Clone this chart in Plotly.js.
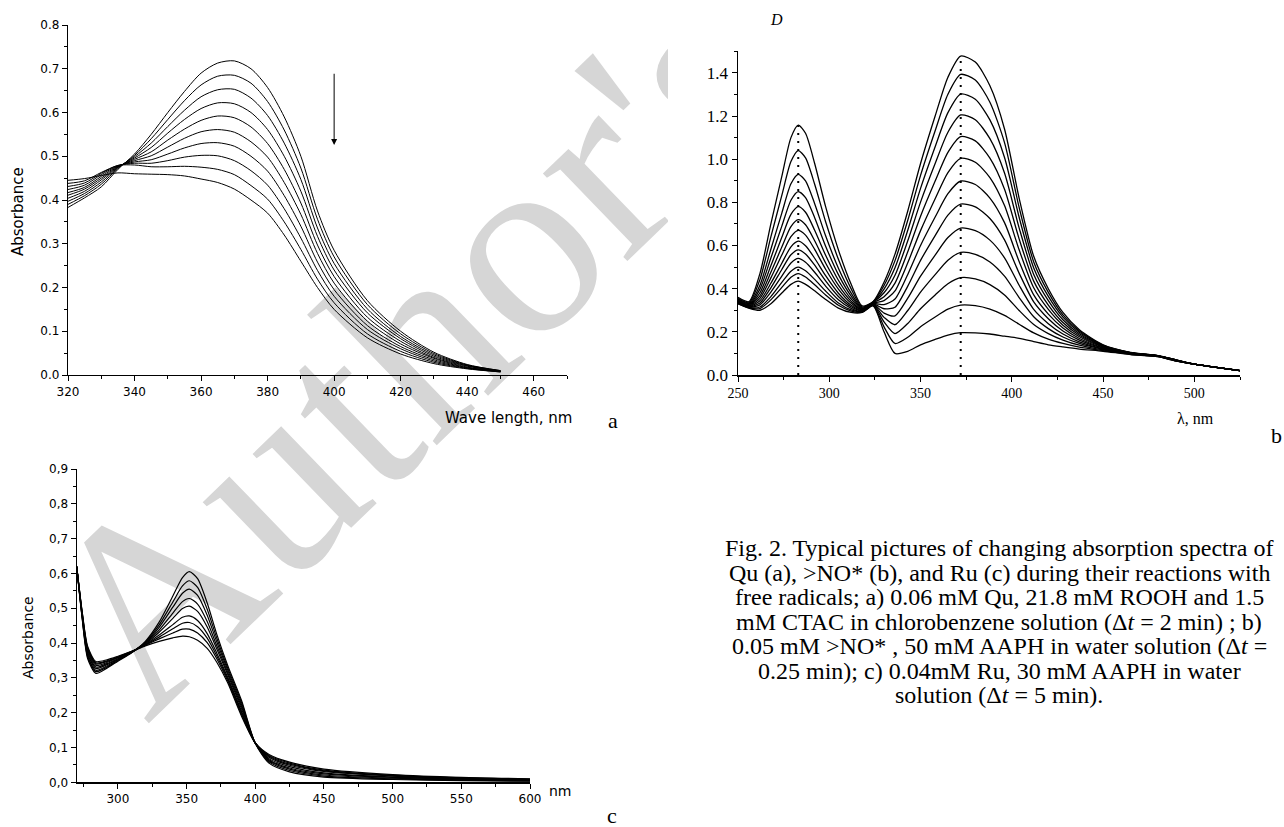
<!DOCTYPE html>
<html><head><meta charset="utf-8">
<script src="https://cdn.plot.ly/plotly-3.0.1.min.js"></script>
<style>
html,body{margin:0;padding:0;background:#fff;}
#wrap{position:relative;width:1284px;height:827px;overflow:hidden;background:#fff;}
#wm{position:absolute;left:0;top:0;}
#chart{position:absolute;left:0;top:0;width:1284px;height:827px;}
</style></head>
<body><div id="wrap">
<svg id="wm" width="1284" height="827"><text x="0" y="0" transform="translate(147,725) rotate(-44)" font-family="Liberation Serif, Times New Roman, serif" font-size="265" fill="#d6d6d6">Author's</text></svg>
<div id="chart"></div></div>
<script>
// ---------- Panel a : Qu ----------
const wlA = [320,325,330,335,340,345,350,355,360,365,370,375,380,385,390,395,400,410,420,430,440,450];
const quA1 = [.383,.405,.430,.470,.505,.550,.600,.648,.690,.713,.718,.700,.657,.590,.500,.375,.285,.170,.100,.052,.024,.010];
const quA2 = [.390,.410,.436,.472,.502,.540,.584,.627,.663,.683,.685,.667,.625,.560,.473,.356,.270,.161,.094,.049,.023,.010];
const quA3 = [.397,.415,.441,.474,.499,.530,.568,.605,.636,.652,.653,.633,.593,.530,.447,.336,.255,.151,.088,.046,.022,.009];
const quA4 = [.404,.420,.446,.475,.496,.520,.553,.584,.609,.622,.620,.600,.561,.500,.420,.317,.240,.142,.083,.043,.021,.009];
const quA5 = [.411,.425,.450,.476,.493,.510,.537,.562,.582,.592,.588,.567,.529,.470,.393,.297,.225,.132,.077,.040,.020,.009];
const quA6 = [.417,.429,.454,.477,.490,.501,.521,.541,.556,.561,.555,.533,.498,.440,.367,.278,.210,.123,.071,.038,.018,.008];
const quA7 = [.424,.434,.458,.478,.487,.492,.505,.519,.529,.531,.523,.500,.466,.410,.340,.258,.195,.113,.065,.035,.017,.008];
const quA8 = [.431,.439,.461,.479,.484,.484,.490,.498,.502,.501,.490,.467,.434,.380,.313,.239,.180,.104,.060,.032,.016,.008];
const quA9 = [.438,.444,.463,.479,.480,.476,.476,.477,.475,.470,.458,.433,.402,.350,.287,.219,.165,.094,.054,.029,.015,.007];
const quA10= [.445,.449,.456,.462,.460,.459,.458,.455,.448,.440,.425,.400,.370,.320,.260,.200,.150,.085,.048,.026,.014,.007];
const arrowWlA = [400];
const arrowFromA = [0.692];
const arrowToA = [0.526];

// ---------- Panel b : >NO* ----------
const wlB = [250,256,262,268,274,279,283,287,292,298,305,312,318,324,330,336,343,350,358,365,372,380,388,396,404,412,420,428,437,450,465,480,490,500,512,525];
const noB1 = [.360,.340,.470,.700,.920,1.100,1.158,1.120,.980,.780,.580,.420,.320,.340,.430,.560,.760,.980,1.200,1.380,1.478,1.450,1.340,1.140,.820,.550,.400,.290,.210,.140,.105,.090,.070,.050,.035,.020];
const noB2 = [.355,.335,.442,.640,.832,.989,1.040,1.006,.884,.710,.536,.399,.315,.339,.415,.530,.717,.925,1.132,1.301,1.393,1.367,1.264,1.077,.777,.524,.383,.279,.204,.138,.104,.090,.070,.050,.035,.020];
const noB3 = [.351,.331,.416,.583,.750,.886,.930,.900,.794,.645,.495,.379,.311,.337,.398,.497,.671,.865,1.058,1.216,1.302,1.278,1.182,1.008,.731,.496,.364,.268,.198,.136,.104,.089,.069,.050,.035,.020];
const noB4 = [.347,.327,.398,.542,.690,.810,.850,.822,.729,.597,.465,.365,.307,.336,.381,.462,.622,.801,.980,1.125,1.205,1.183,1.095,.936,.682,.466,.345,.256,.191,.134,.103,.089,.069,.050,.035,.020];
const noB5 = [.344,.324,.381,.506,.638,.744,.780,.754,.671,.555,.439,.352,.304,.334,.363,.426,.571,.736,.899,1.032,1.105,1.085,1.005,.861,.631,.435,.324,.243,.184,.131,.102,.089,.069,.050,.035,.020];
const noB6 = [.342,.322,.367,.476,.593,.688,.720,.696,.622,.519,.416,.341,.302,.333,.345,.390,.520,.669,.817,.938,1.004,.986,.915,.785,.580,.404,.304,.231,.177,.129,.101,.088,.068,.050,.035,.020];
const noB7 = [.340,.320,.355,.450,.556,.641,.670,.648,.582,.490,.398,.332,.300,.331,.326,.352,.466,.600,.732,.840,.899,.883,.820,.706,.526,.371,.282,.218,.169,.126,.100,.088,.068,.050,.035,.020];
const noB8 = [.338,.318,.344,.425,.518,.594,.620,.599,.541,.460,.379,.323,.298,.329,.307,.314,.412,.531,.646,.741,.792,.779,.725,.626,.472,.339,.261,.204,.162,.124,.100,.087,.067,.050,.035,.020];
const noB9 = [.336,.316,.334,.404,.489,.557,.580,.561,.509,.436,.364,.316,.296,.328,.287,.274,.356,.458,.556,.637,.681,.669,.625,.543,.416,.304,.238,.190,.154,.121,.099,.087,.067,.050,.035,.020];
const noB10= [.334,.314,.325,.384,.458,.519,.540,.522,.476,.412,.349,.309,.294,.326,.267,.233,.299,.384,.465,.532,.568,.559,.524,.458,.359,.270,.215,.176,.146,.119,.098,.086,.066,.050,.035,.020];
const noB11= [.333,.313,.315,.363,.429,.481,.500,.483,.443,.389,.334,.302,.293,.324,.246,.192,.239,.307,.371,.423,.451,.445,.419,.371,.299,.234,.192,.162,.138,.116,.097,.086,.066,.050,.035,.020];
const noB12= [.331,.311,.308,.348,.406,.453,.470,.454,.418,.371,.323,.296,.291,.322,.223,.146,.175,.224,.269,.305,.324,.321,.305,.276,.235,.195,.166,.146,.129,.113,.096,.085,.065,.050,.035,.020];
const noB13= [.330,.310,.300,.330,.380,.420,.435,.420,.390,.350,.310,.290,.290,.320,.200,.100,.110,.140,.165,.185,.196,.195,.190,.180,.170,.155,.140,.130,.120,.110,.095,.085,.065,.050,.035,.020];
const peakWlB = [283, 372];
const peakTopB = [1.158, 1.478];

// ---------- Panel c : Ru ----------
const wlC = [270,274,278,284,292,300,310,320,330,340,347,352,358,365,372,380,390,400,410,425,450,500,550,600];
const ruC1 = [.620,.470,.355,.313,.328,.348,.372,.405,.460,.535,.588,.605,.585,.515,.425,.335,.235,.112,.055,.030,.015,.008,.005,.003];
const ruC2 = [.620,.473,.360,.318,.331,.350,.373,.403,.452,.518,.564,.579,.560,.497,.414,.328,.229,.112,.059,.034,.018,.010,.006,.004];
const ruC3 = [.620,.475,.364,.322,.334,.352,.373,.401,.445,.503,.543,.555,.537,.480,.403,.322,.223,.112,.062,.038,.021,.012,.007,.005];
const ruC4 = [.620,.478,.369,.327,.338,.354,.374,.400,.437,.486,.519,.528,.512,.462,.392,.315,.217,.112,.065,.041,.024,.014,.009,.006];
const ruC5 = [.620,.481,.374,.331,.341,.355,.374,.398,.431,.471,.499,.506,.491,.446,.383,.309,.211,.113,.068,.045,.027,.015,.010,.007];
const ruC6 = [.620,.484,.379,.336,.344,.358,.375,.396,.423,.453,.474,.478,.465,.427,.371,.301,.204,.113,.072,.049,.031,.018,.011,.008];
const ruC7 = [.620,.486,.382,.340,.347,.359,.375,.395,.417,.441,.457,.459,.447,.414,.363,.296,.200,.113,.075,.052,.033,.019,.012,.008];
const ruC8 = [.620,.488,.386,.343,.349,.360,.376,.394,.412,.429,.440,.440,.429,.401,.355,.291,.195,.113,.077,.055,.035,.020,.013,.009];
const ruC9 = [.620,.490,.390,.347,.352,.362,.376,.392,.405,.415,.420,.418,.408,.385,.345,.285,.190,.113,.080,.058,.038,.022,.014,.010];
const yTickValsC = [0,0.1,0.2,0.3,0.4,0.5,0.6,0.7,0.8,0.9];
const yTickTextC = ['0,0','0,1','0,2','0,3','0,4','0,5','0,6','0,7','0,8','0,9'];

const captionLines = [
  'Fig. 2. Typical pictures of changing absorption spectra of',
  'Qu (a), &gt;NO* (b), and Ru (c) during their reactions with',
  'free radicals; a) 0.06 mM Qu, 21.8 mM ROOH and 1.5',
  'mM CTAC in chlorobenzene solution (Δ<i>t</i> = 2 min) ; b)',
  '0.05 mM &gt;NO* , 50 mM AAPH in water solution (Δ<i>t</i> =',
  '0.25 min); c) 0.04mM Ru, 30 mM AAPH in water',
  'solution (Δ<i>t</i> = 5 min).'
];

// ---------- build ----------
const W = 1284, H = 827;
const xp = px => px / W;
const yp = py => 1 - py / H;
const SANS = 'DejaVu Sans, Arial, sans-serif';
const SERIF = 'Liberation Serif, Times New Roman, serif';

const traces = [];
[quA1,quA2,quA3,quA4,quA5,quA6,quA7,quA8,quA9,quA10].forEach(y => traces.push({
  x: wlA, y: y, type: 'scatter', mode: 'lines', xaxis: 'x', yaxis: 'y',
  line: {color: '#000', width: 1, shape: 'spline', smoothing: 0.8}, hoverinfo: 'skip', showlegend: false
}));
[noB1,noB2,noB3,noB4,noB5,noB6,noB7,noB8,noB9,noB10,noB11,noB12,noB13].forEach(y => traces.push({
  x: wlB, y: y, type: 'scatter', mode: 'lines', xaxis: 'x2', yaxis: 'y2',
  line: {color: '#000', width: 1.3, shape: 'spline', smoothing: 0.7}, hoverinfo: 'skip', showlegend: false
}));
peakWlB.forEach((w, i) => traces.push({
  x: [w, w], y: [0, peakTopB[i]], type: 'scatter', mode: 'lines', xaxis: 'x2', yaxis: 'y2',
  line: {color: '#000', width: 2, dash: '2px,6px'}, hoverinfo: 'skip', showlegend: false
}));
[ruC1,ruC2,ruC3,ruC4,ruC5,ruC6,ruC7,ruC8,ruC9].forEach(y => traces.push({
  x: wlC, y: y, type: 'scatter', mode: 'lines', xaxis: 'x3', yaxis: 'y3',
  line: {color: '#000', width: 1.2, shape: 'spline', smoothing: 0.7}, hoverinfo: 'skip', showlegend: false
}));

function ax(o) {
  return Object.assign({
    showline: true, linecolor: '#000', linewidth: 1.2, ticks: 'outside', ticklen: 5, tickwidth: 1,
    tickcolor: '#000', showgrid: false, zeroline: false, fixedrange: true
  }, o);
}
const minorOf = (d, len) => ({dtick: d, ticks: 'outside', ticklen: len, tickwidth: 1, tickcolor: '#000', showgrid: false});

const annotations = [];
annotations.push({xref: 'x', yref: 'y', axref: 'x', ayref: 'y', x: arrowWlA[0], y: arrowToA[0], ax: arrowWlA[0], ay: arrowFromA[0],
  showarrow: true, arrowhead: 2, arrowsize: 1.2, arrowwidth: 1, arrowcolor: '#000', text: ''});
annotations.push({xref: 'paper', yref: 'paper', x: xp(18), y: yp(212), text: 'Absorbance', textangle: -90, showarrow: false,
  xanchor: 'center', yanchor: 'middle', font: {family: SANS, size: 15, color: '#000'}});
annotations.push({xref: 'paper', yref: 'paper', x: xp(443), y: yp(418), text: 'Wave length, nm', showarrow: false,
  xanchor: 'left', yanchor: 'middle', font: {family: SANS, size: 15, color: '#000'}});
annotations.push({xref: 'paper', yref: 'paper', x: xp(613), y: yp(420), text: 'a', showarrow: false,
  xanchor: 'center', yanchor: 'middle', font: {family: SERIF, size: 22, color: '#000'}});
annotations.push({xref: 'paper', yref: 'paper', x: xp(776), y: yp(20), text: '<i>D</i>', showarrow: false,
  xanchor: 'center', yanchor: 'middle', font: {family: SERIF, size: 16, color: '#000'}});
annotations.push({xref: 'paper', yref: 'paper', x: xp(1195), y: yp(418), text: 'λ, nm', showarrow: false,
  xanchor: 'center', yanchor: 'middle', font: {family: SERIF, size: 16, color: '#000'}});
annotations.push({xref: 'paper', yref: 'paper', x: xp(1276), y: yp(436), text: 'b', showarrow: false,
  xanchor: 'center', yanchor: 'middle', font: {family: SERIF, size: 22, color: '#000'}});
annotations.push({xref: 'paper', yref: 'paper', x: xp(28), y: yp(638), text: 'Absorbance', textangle: -90, showarrow: false,
  xanchor: 'center', yanchor: 'middle', font: {family: SANS, size: 14, color: '#000'}});
annotations.push({xref: 'paper', yref: 'paper', x: xp(547), y: yp(791), text: 'nm', showarrow: false,
  xanchor: 'left', yanchor: 'middle', font: {family: SANS, size: 14, color: '#000'}});
annotations.push({xref: 'paper', yref: 'paper', x: xp(612), y: yp(815), text: 'c', showarrow: false,
  xanchor: 'center', yanchor: 'middle', font: {family: SERIF, size: 22, color: '#000'}});
captionLines.forEach((t, i) => annotations.push({xref: 'paper', yref: 'paper', x: xp(999), y: yp(548 + 24.5 * i), text: t,
  showarrow: false, xanchor: 'center', yanchor: 'middle', font: {family: SERIF, size: 24, color: '#000'}}));

const layout = {
  width: W, height: H, margin: {l: 0, r: 0, t: 0, b: 0},
  paper_bgcolor: 'rgba(0,0,0,0)', plot_bgcolor: 'rgba(0,0,0,0)', showlegend: false,
  xaxis: ax({domain: [xp(68), xp(567)], range: [320, 470], anchor: 'y', tick0: 320, dtick: 20, minor: minorOf(10, 3),
    tickfont: {family: SANS, size: 12, color: '#000'}}),
  yaxis: ax({domain: [yp(375), yp(25)], range: [0, 0.8], anchor: 'x', dtick: 0.1, tickformat: '.1f', minor: minorOf(0.05, 3),
    tickfont: {family: SANS, size: 12, color: '#000'}}),
  xaxis2: ax({domain: [xp(738), xp(1240)], range: [250, 525], anchor: 'y2', tick0: 250, dtick: 50, minor: minorOf(25, 3),
    linewidth: 1.5, tickfont: {family: SERIF, size: 14, color: '#000'}}),
  yaxis2: ax({domain: [yp(375), yp(51.3)], range: [0, 1.5], anchor: 'x2', dtick: 0.2, tickformat: '.1f', minor: minorOf(0.1, 3),
    linewidth: 1.5, tickfont: {family: SERIF, size: 17, color: '#000'}}),
  xaxis3: ax({domain: [xp(76.7), xp(530)], range: [270, 600], anchor: 'y3', tick0: 300, dtick: 50, minor: minorOf(25, 3),
    tickfont: {family: SANS, size: 12, color: '#000'}}),
  yaxis3: ax({domain: [yp(782.3), yp(469)], range: [0, 0.9], anchor: 'x3', tickmode: 'array', tickvals: yTickValsC, ticktext: yTickTextC,
    minor: minorOf(0.05, 3), tickfont: {family: SANS, size: 12, color: '#000'}}),
  shapes: [{type: 'rect', xref: 'paper', yref: 'paper', x0: xp(668), x1: 1, y0: yp(447), y1: 1,
    fillcolor: '#fff', line: {width: 0}, layer: 'below'}],
  annotations: annotations
};

Plotly.newPlot('chart', traces, layout, {displayModeBar: false, staticPlot: true});
</script>
</body></html>
